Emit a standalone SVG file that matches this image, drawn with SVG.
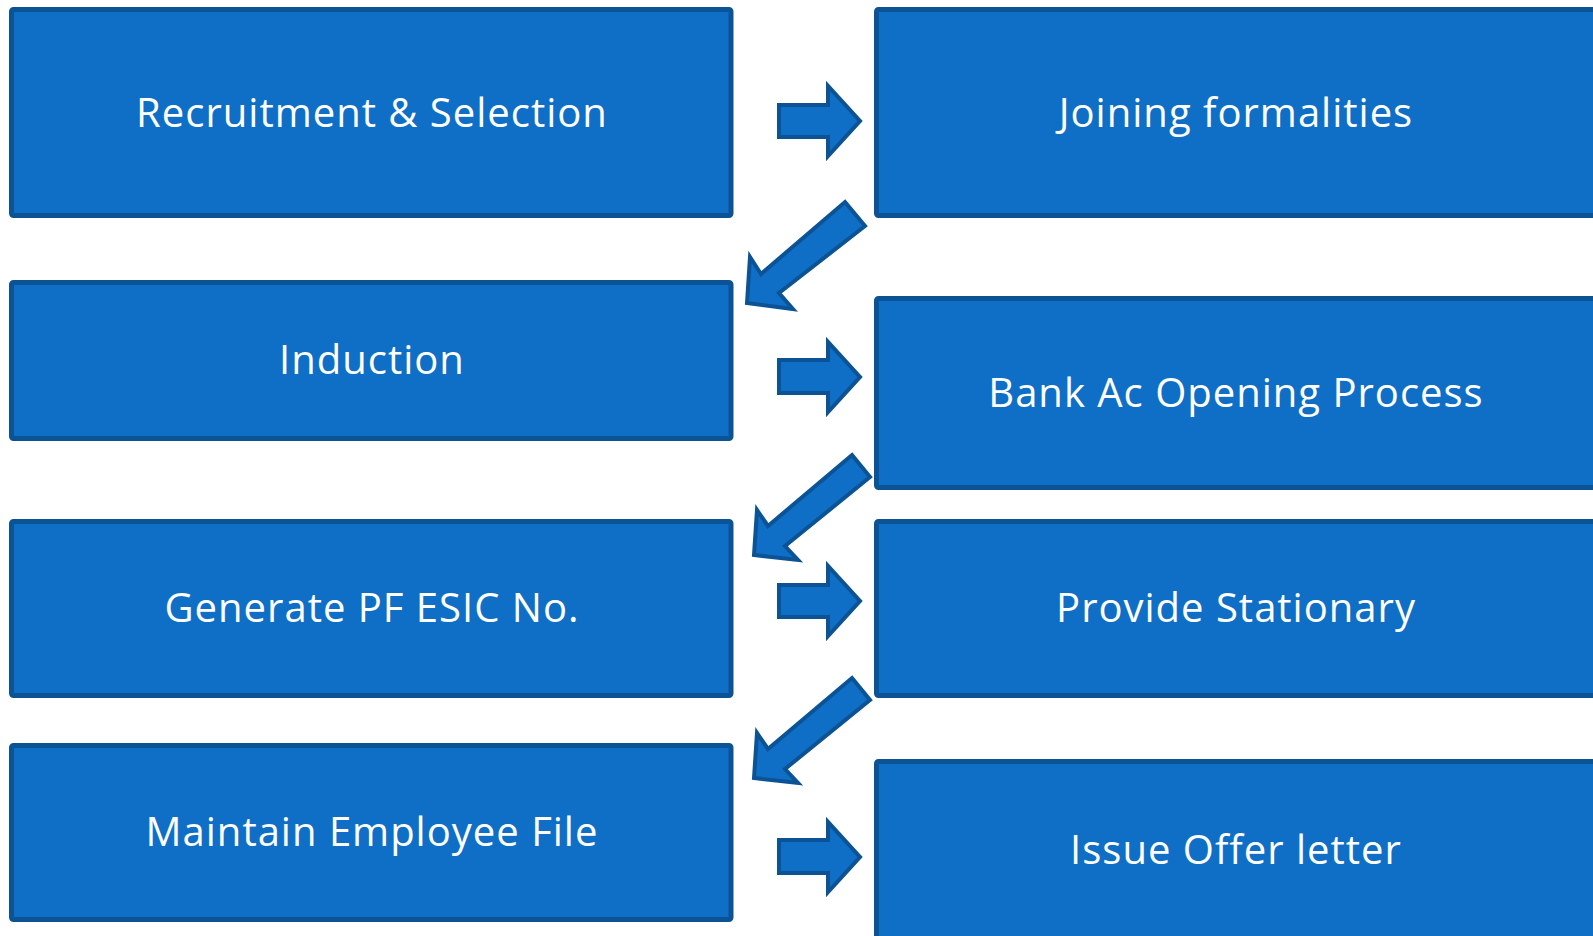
<svg xmlns="http://www.w3.org/2000/svg" width="1593" height="936" viewBox="0 0 1593 936">
<style>
.box{fill:#0f6fc6;stroke:#0b5394;stroke-width:5;}
.arr{fill:#0f6fc6;stroke:#0b5394;stroke-width:4;stroke-linejoin:miter;}
.t{font-family:"Open Sans","Liberation Sans",sans-serif;font-size:40px;letter-spacing:1px;fill:#ffffff;text-anchor:middle;}
</style>
<rect width="1593" height="936" fill="#ffffff"/>
<g id="n1"><rect class="box" x="11.5" y="9.5" width="719.5" height="206" rx="2"/><text class="t" x="372" y="127">Recruitment &amp; Selection</text></g>
<g id="n2"><rect class="box" x="876.5" y="9.5" width="720" height="206" rx="2"/><text class="t" x="1236" y="127">Joining formalities</text></g>
<g id="n3"><rect class="box" x="11.5" y="282.5" width="719.5" height="156" rx="2"/><text class="t" x="372" y="374">Induction</text></g>
<g id="n4"><rect class="box" x="876.5" y="298.5" width="720" height="189" rx="2"/><text class="t" x="1236" y="407">Bank Ac Opening Process</text></g>
<g id="n5"><rect class="box" x="11.5" y="521.5" width="719.5" height="174" rx="2"/><text class="t" x="372" y="622">Generate PF ESIC No.</text></g>
<g id="n6"><rect class="box" x="876.5" y="521.5" width="720" height="174" rx="2"/><text class="t" x="1236" y="622">Provide Stationary</text></g>
<g id="n7"><rect class="box" x="11.5" y="745.5" width="719.5" height="174" rx="2"/><text class="t" x="372" y="846">Maintain Employee File</text></g>
<g id="n8"><rect class="box" x="876.5" y="761.5" width="720" height="180" rx="2"/><text class="t" x="1236" y="864">Issue Offer letter</text></g>
<g id="connectors">
<path class="arr" d="M779,105 H828 V86 L860,121 L828,156 V137 H779 Z"/>
<path class="arr" d="M779,360 H828 V342 L860,377 L828,412 V393 H779 Z"/>
<path class="arr" d="M779,585 H828 V566 L860,601 L828,636 V617 H779 Z"/>
<path class="arr" d="M779,840 H828 V822 L860,857 L828,892 V873 H779 Z"/>
<polygon class="arr" points="845,202 865,226 779,293 793,309 747,303 750,257 761,274"/>
<polygon class="arr" points="852,455 870,477 785,546 798,560 754,555 757,510 768,526"/>
<polygon class="arr" points="852,678 870,700 785,769 798,783 754,778 757,733 768,749"/>
</g>
</svg>
